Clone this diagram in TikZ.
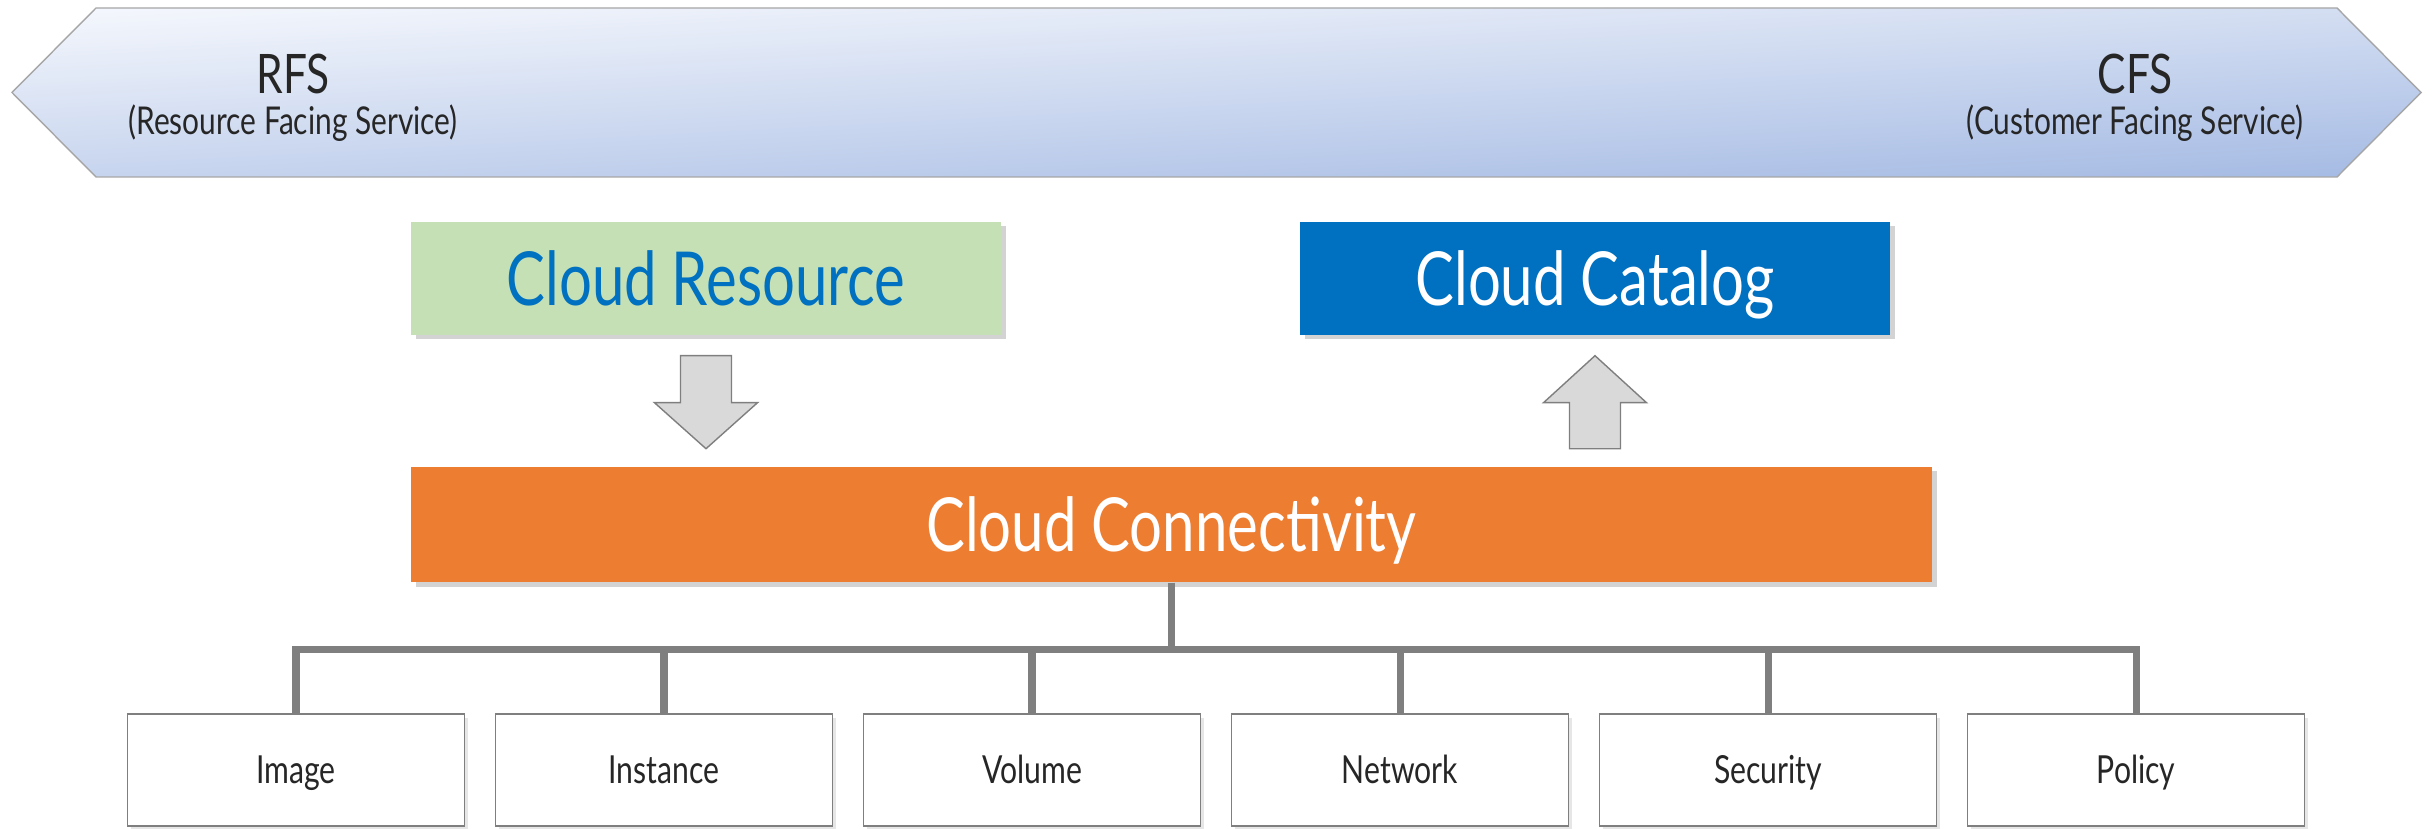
\documentclass[tikz,border=0pt]{standalone}
\usepackage{fontspec}
\setsansfont{Lato}[FakeStretch=0.78]
\renewcommand{\familydefault}{\sfdefault}
\usepackage{xcolor}
\definecolor{bandLight}{HTML}{F3F6FC}
\definecolor{bandDark}{HTML}{A7BCE4}
\definecolor{bandBorder}{HTML}{A6A6A6}
\definecolor{resGreen}{HTML}{C5E0B4}
\definecolor{catBlue}{HTML}{0070C0}
\definecolor{connOrange}{HTML}{ED7D31}
\definecolor{arrowFill}{HTML}{D9D9D9}
\definecolor{lineGray}{HTML}{7F7F7F}
\definecolor{textDark}{HTML}{262626}
\usepackage{tikz}
\usetikzlibrary{positioning,shadows,calc}
\tikzset{
    band/.style={
        top color=bandLight,
        bottom color=bandDark,
        shading angle=3,
        draw=bandBorder,
        line width=0.4pt
    },
    bandtitle/.style={
        font=\fontsize{15.5}{18}\selectfont,
        text=textDark,
        inner sep=0pt
    },
    bandsub/.style={
        font=\fontsize{10.9}{13}\selectfont,
        text=textDark,
        inner sep=0pt
    },
    layer/.style={
        rectangle,
        minimum width=5.9cm,
        minimum height=1.13cm,
        inner sep=0pt,
        text height=15.2pt,
        text depth=0pt,
        drop shadow={shadow xshift=0.045cm, shadow yshift=-0.045cm, opacity=0.35},
        font=\fontsize{21.2}{24}\selectfont
    },
    item/.style={
        rectangle,
        draw=lineGray,
        fill=white,
        line width=0.4pt,
        minimum width=3.37cm,
        minimum height=1.12cm,
        inner sep=0pt,
        text height=7.9pt,
        text depth=0pt,
        drop shadow={shadow xshift=0.035cm, shadow yshift=-0.035cm, opacity=0.2},
        font=\fontsize{11}{13}\selectfont,
        text=textDark
    },
    blockarrow/.style={
        fill=arrowFill,
        draw=lineGray,
        line width=0.4pt
    },
    tree/.style={
        draw=lineGray,
        line width=2pt
    }
}
\begin{document}
\begin{tikzpicture}
    \useasboundingbox (0,0) rectangle (24.33,8.28);

    % Service band (RFS <-> CFS)
    \shadedraw[band] (0.12,7.355) -- (0.96,8.20) -- (23.37,8.20)
        -- (24.21,7.355) -- (23.37,6.51) -- (0.96,6.51) -- cycle;
    \node[bandtitle] (rfs) at (2.93,7.54) {RFS};
    \node[bandsub] (rfssub) at (2.93,7.05) {(Resource Facing Service)};
    \node[bandtitle] (cfs) at (21.35,7.54) {CFS};
    \node[bandsub] (cfssub) at (21.35,7.05) {(Customer Facing Service)};

    % Upper layers
    \node[layer, fill=resGreen, text=catBlue] (res) at (7.06,5.495) {Cloud Resource};
    \node[layer, fill=catBlue, text=white] (cat) at (15.95,5.495) {Cloud Catalog};
    \node[layer, fill=connOrange, text=white, minimum width=15.21cm,
        minimum height=1.15cm] (conn) at (11.715,3.035) {Cloud Connectivity};

    % Block arrows
    \draw[blockarrow] ($(res.south)+(-0.255,-0.20)$) -- ++(0,-0.47) -- ++(-0.26,0)
        -- ++(0.515,-0.46) -- ++(0.515,0.46) -- ++(-0.26,0) -- ++(0,0.47) -- cycle;
    \draw[blockarrow] ($(cat.south)+(0,-0.20)$) -- ++(-0.515,-0.47) -- ++(0.26,0)
        -- ++(0,-0.46) -- ++(0.51,0) -- ++(0,0.46) -- ++(0.26,0) -- cycle;

    % Components
    \node[item] (img) at (2.96,0.58) {Image};
    \node[item] (inst) at (6.64,0.58) {Instance};
    \node[item] (vol) at (10.32,0.58) {Volume};
    \node[item] (net) at (14.00,0.58) {Network};
    \node[item] (sec) at (17.68,0.58) {Security};
    \node[item] (pol) at (21.36,0.58) {Policy};

    % Tree
    \draw[tree] (conn.south) -- ++(0,-0.67) coordinate (hub);
    \draw[tree] (img.north) |- (hub) -| (pol.north);
    \draw[tree] (inst.north) -- (inst.north |- hub);
    \draw[tree] (vol.north) -- (vol.north |- hub);
    \draw[tree] (net.north) -- (net.north |- hub);
    \draw[tree] (sec.north) -- (sec.north |- hub);
\end{tikzpicture}
\end{document}
